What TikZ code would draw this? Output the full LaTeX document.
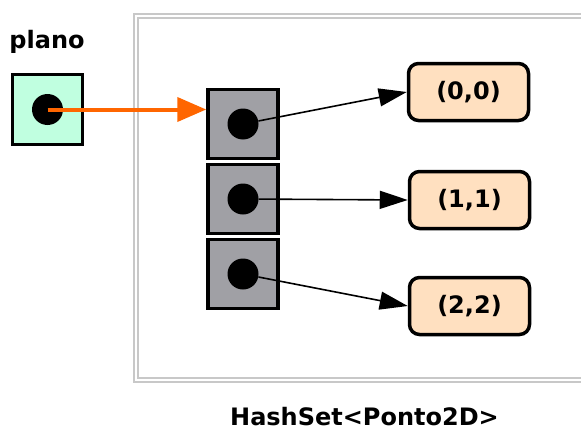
\documentclass[tikz,border=0pt]{standalone}
\usepackage{fontspec}
\setmainfont{DejaVu Sans}
\usetikzlibrary{arrows.meta}
\definecolor{mint}{RGB}{192,255,224}
\definecolor{cellgray}{RGB}{160,160,165}
\definecolor{peach}{RGB}{255,224,192}
\definecolor{orng}{RGB}{255,102,0}
\definecolor{framegray}{RGB}{200,200,200}
\begin{document}
\begin{tikzpicture}[x=1pt,y=-1pt,
  every node/.style={font=\fontsize{24}{28}\selectfont\bfseries, inner sep=0pt},
  refbox/.style={draw=black, line width=3.5pt, fill=mint, minimum width=70pt, minimum height=70pt},
  cell/.style={draw=black, line width=3.5pt, fill=cellgray, minimum width=70pt, minimum height=69pt},
  dot/.style={circle, fill=black, minimum size=31pt},
  valbox/.style={draw=black, line width=3.5pt, fill=peach, rounded corners=10pt, minimum width=120pt, minimum height=57pt},
  ptr/.style={-{Triangle[length=28pt,width=18pt]}, line width=1.6pt, black},
  optr/.style={-{Triangle[length=29pt,width=24pt]}, line width=4pt, orng},
  framestyle/.style={draw=framegray, line width=1.8pt}]
\useasboundingbox (0,0) rectangle (581,431);
% frame (double gray line)
\draw[framestyle] (590,14) -- (134,14) -- (134,382) -- (590,382);
\draw[framestyle] (590,18) -- (138,18) -- (138,378) -- (590,378);
% plano
\node[anchor=base] (lbl) at (47,48) {plano};
\node[refbox] (p) at (47.5,109.5) {};
\node[dot] (pd) at (p.center) {};
% cells
\node[cell] (c1) at (243,124) {};
\node[cell] (c2) at (243,199) {};
\node[cell] (c3) at (243,274) {};
\node[dot] (d1) at (c1.center) {};
\node[dot] (d2) at (c2.center) {};
\node[dot] (d3) at (c3.center) {};
% values
\node[valbox] (v1) at (468.5,92) {(0,0)};
\node[valbox] (v2) at (469.5,200) {(1,1)};
\node[valbox] (v3) at (469.5,306) {(2,2)};
% arrows
\draw[optr] (pd.center) -- (pd.center -| c1.west);
\draw[ptr] (d1) -- (v1.west);
\draw[ptr] (d2) -- (v2.west);
\draw[ptr] (d3) -- (v3.west);
% caption
\node[anchor=base] (cap) at (364.5,425) {HashSet<Ponto2D>};
\end{tikzpicture}
\end{document}
